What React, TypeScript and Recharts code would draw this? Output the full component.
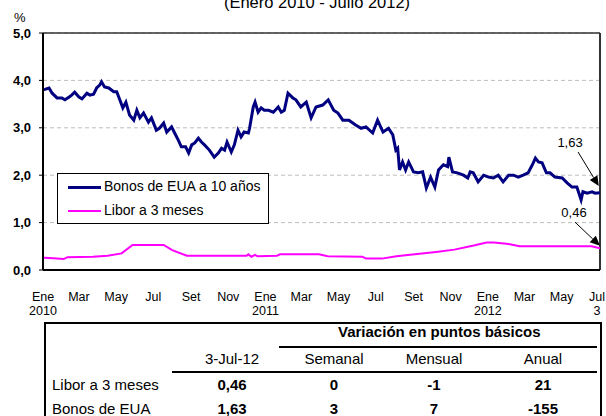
import React from "react";
import { CartesianGrid, Line, LineChart, ReferenceLine, XAxis, YAxis } from "recharts";

const FONT = "Arial, 'Liberation Sans', sans-serif";

/* ---------- data (x = days since 1 Jan 2010) ---------- */
const bondDays = [
  0, 3, 10, 15, 23, 31, 36, 43, 47, 52, 59, 64, 72, 77, 83, 88, 93, 96, 101, 108,
  116, 121, 126, 131, 136, 142, 149, 154, 159, 165, 173, 178, 186, 191, 198, 203, 211, 216, 222, 227,
  234, 239, 244, 249, 255, 260, 265, 273, 281, 288, 293, 298, 302, 309, 314, 320, 325, 330, 337, 339,
  345, 348, 353, 358, 363, 370, 378, 386, 391, 396, 402, 410, 415, 423, 432, 440, 448, 459, 468, 477,
  484, 492, 502, 513, 522, 530, 541, 549, 558, 567, 574, 579, 582, 585, 590, 595, 600, 608, 616, 623,
  629, 636, 643, 649, 657, 664, 666, 672, 680, 690, 697, 701, 706, 714, 723, 731, 739, 747, 755, 764,
  772, 780, 788, 796, 803, 808, 813, 819, 826, 832, 840, 852, 860, 868, 876, 883, 886, 893, 901, 906,
  914,
];
const bondValues = [
  3.8, 3.81, 3.84, 3.73, 3.63, 3.63, 3.59, 3.65, 3.69, 3.75, 3.65, 3.61, 3.73, 3.69, 3.71, 3.84, 3.9, 3.97, 3.86, 3.84,
  3.76, 3.76, 3.59, 3.42, 3.54, 3.27, 3.16, 3.37, 3.21, 3.31, 3.12, 3.21, 2.95, 2.99, 3.1, 2.91, 3.02, 2.89, 2.74, 2.6,
  2.6, 2.47, 2.64, 2.68, 2.78, 2.7, 2.64, 2.53, 2.38, 2.47, 2.57, 2.53, 2.7, 2.49, 2.64, 2.95, 2.81, 2.91, 2.89, 2.99,
  3.44, 3.54, 3.33, 3.42, 3.37, 3.37, 3.33, 3.44, 3.33, 3.37, 3.73, 3.63, 3.59, 3.44, 3.54, 3.21, 3.44, 3.48, 3.59, 3.37,
  3.31, 3.16, 3.16, 3.06, 2.99, 3.02, 2.89, 3.16, 2.91, 2.99, 2.85, 2.53, 2.57, 2.11, 2.28, 2.11, 2.28, 2.07, 2.05, 2.07,
  1.73, 1.96, 1.75, 2.11, 2.22, 2.18, 2.38, 2.07, 2.05, 2.0, 1.94, 2.07, 2.05, 1.86, 2.0, 1.96, 1.94, 2.0, 1.86, 2.0,
  2.0, 1.96, 2.0, 2.05, 2.22, 2.36, 2.28, 2.26, 2.05, 2.05, 1.96, 1.94, 1.84, 1.75, 1.75, 1.48, 1.65, 1.62, 1.65, 1.62,
  1.63,
];

const liborDays = [
  0, 2, 17, 34, 40, 82, 106, 129, 147, 198, 212, 236, 334, 337, 342, 348, 352, 384, 389, 453,
  467, 524, 530, 556, 580, 610, 645, 675, 705, 728, 740, 764, 782, 900, 914,
];
const liborValues = [
  0.26, 0.26, 0.25, 0.23, 0.27, 0.28, 0.3, 0.35, 0.53, 0.53, 0.42, 0.3, 0.3, 0.33, 0.28, 0.32, 0.29, 0.3, 0.33, 0.33,
  0.29, 0.28, 0.24, 0.24, 0.29, 0.33, 0.38, 0.43, 0.51, 0.58, 0.58, 0.55, 0.5, 0.5, 0.46,
];

const monthTicks = [0, 59, 120, 181, 243, 304, 365, 424, 485, 546, 608, 669, 730, 790, 851, 914];
const monthLabels = ["Ene", "Mar", "May", "Jul", "Set", "Nov", "Ene", "Mar", "May", "Jul", "Set", "Nov", "Ene", "Mar", "May", "Jul"];
const yearLabels = ["2010", "", "", "", "", "", "2011", "", "", "", "", "", "2012", "", "", "3"];
const yTicks = [0, 1, 2, 3, 4, 5];

const tableCols = ["3-Jul-12", "Semanal", "Mensual", "Anual"];
const liborRow = ["0,46", "0", "-1", "21"];
const bondRow = ["1,63", "3", "7", "-155"];

const bondData = bondDays.map((d, i) => ({ d, v: bondValues[i] }));
const liborData = liborDays.map((d, i) => ({ d, v: liborValues[i] }));

/* ---------- helpers ---------- */
function MonthTick({ x, y, payload }: any) {
  const i = monthTicks.indexOf(payload.value);
  // last label sits against the right edge, like the original
  const tx = i === monthTicks.length - 1 ? x - 3 : x;
  return (
    <g>
      <text x={tx} y={y + 23} textAnchor="middle" fontSize={12.5} fill="#000" fontFamily={FONT}>
        {monthLabels[i]}
      </text>
      <text x={tx} y={y + 37} textAnchor="middle" fontSize={12.5} fill="#000" fontFamily={FONT}>
        {yearLabels[i]}
      </text>
    </g>
  );
}

function arrowShape(label: string, dx: number) {
  return (props: any) => {
    const { x1, y1, x2, y2 } = props;
    const a = Math.atan2(y2 - y1, x2 - x1);
    const len = 10;
    const w = 4.5;
    const bx = x2 - len * Math.cos(a);
    const by = y2 - len * Math.sin(a);
    const pts = [
      `${x2},${y2}`,
      `${bx + w * Math.sin(a)},${by - w * Math.cos(a)}`,
      `${bx - w * Math.sin(a)},${by + w * Math.cos(a)}`,
    ].join(" ");
    return (
      <g>
        <line x1={x1} y1={y1} x2={bx} y2={by} stroke="#000" strokeWidth={1} />
        <polygon points={pts} fill="#000" />
        <text x={x1 + dx} y={y1 - 5} textAnchor="middle" fontSize={13} fontFamily={FONT} fill="#000">
          {label}
        </text>
      </g>
    );
  };
}

function T({ x, y, children, bold, anchor = "center" }: any) {
  const style: any = {
    position: "absolute",
    top: y - 9,
    fontSize: 15,
    lineHeight: "18px",
    fontWeight: bold ? "bold" : "normal",
    whiteSpace: "nowrap",
  };
  if (anchor === "center") {
    style.left = x - 100;
    style.width = 200;
    style.textAlign = "center";
  } else {
    style.left = x;
  }
  return <div style={style}>{children}</div>;
}

const colX = [232, 334, 434, 543];

export default function App() {
  return (
    <div
      style={{
        position: "absolute",
        left: 0,
        top: 0,
        width: 606,
        height: 416,
        overflow: "hidden",
        background: "#fff",
        fontFamily: FONT,
        color: "#000",
      }}
    >
      <div style={{ position: "absolute", left: 0, top: 0 }}>
        <LineChart width={606} height={320} margin={{ top: 33, right: 6, bottom: 20, left: 0 }}>
          <CartesianGrid vertical={false} stroke="#bdbdbd" strokeDasharray="4 3" />
          <XAxis
            dataKey="d"
            type="number"
            domain={[0, 914]}
            ticks={monthTicks}
            interval={0}
            height={30}
            tick={<MonthTick />}
            tickLine={false}
            axisLine={{ stroke: "#000", strokeWidth: 2 }}
          />
          <YAxis
            type="number"
            domain={[0, 5]}
            ticks={yTicks}
            width={43}
            tickSize={4}
            tickMargin={8}
            tickLine={{ stroke: "#000" }}
            axisLine={{ stroke: "#000", strokeWidth: 2 }}
            tickFormatter={(v) => Number(v).toFixed(1).replace(".", ",")}
            tick={{ fill: "#000", fontSize: 13, fontWeight: "bold", fontFamily: FONT }}
          />
          <ReferenceLine y={5} stroke="#333" strokeWidth={1.5} />
          <ReferenceLine x={914} stroke="#333" strokeWidth={2} />
          <Line
            data={liborData}
            dataKey="v"
            type="linear"
            stroke="#ff00ff"
            strokeWidth={2}
            dot={false}
            isAnimationActive={false}
          />
          <Line
            data={bondData}
            dataKey="v"
            type="linear"
            stroke="#000080"
            strokeWidth={3}
            dot={false}
            isAnimationActive={false}
          />
          <ReferenceLine
            segment={[{ x: 878, y: 2.49 }, { x: 912, y: 1.77 }]}
            shape={arrowShape("1,63", -8)}
          />
          <ReferenceLine
            segment={[{ x: 873, y: 1.01 }, { x: 914, y: 0.51 }]}
            shape={arrowShape("0,46", -1)}
          />
        </LineChart>
      </div>

      {/* title (cut at top) and unit */}
      <div
        style={{
          position: "absolute",
          left: 217,
          width: 200,
          top: -7,
          textAlign: "center",
          fontSize: 16.5,
          whiteSpace: "nowrap",
        }}
      >
        (Enero 2010 - Julio 2012)
      </div>
      <div style={{ position: "absolute", left: 14, top: 10, fontSize: 13 }}>%</div>

      {/* legend */}
      <div
        style={{
          position: "absolute",
          left: 57,
          top: 173,
          width: 210,
          height: 49,
          border: "1px solid #000",
          background: "#fff",
          fontSize: 14,
        }}
      >
        <div style={{ position: "absolute", left: 10, top: 12, width: 33, height: 3, background: "#000080" }} />
        <div style={{ position: "absolute", left: 46, top: 4, whiteSpace: "nowrap" }}>Bonos de EUA a 10 años</div>
        <div style={{ position: "absolute", left: 10, top: 36, width: 33, height: 2, background: "#ff00ff" }} />
        <div style={{ position: "absolute", left: 46, top: 28, whiteSpace: "nowrap" }}>Libor a 3 meses</div>
      </div>

      {/* table */}
      <div
        style={{
          position: "absolute",
          left: 44,
          top: 322,
          width: 554,
          height: 120,
          border: "2px solid #000",
        }}
      />
      <T x={438} y={332} bold>
        Variación en puntos básicos
      </T>
      <div style={{ position: "absolute", left: 279, top: 346, width: 318, height: 2, background: "#000" }} />
      {tableCols.map((c, i) => (
        <T key={c} x={colX[i]} y={359}>
          {c}
        </T>
      ))}
      <div style={{ position: "absolute", left: 172, top: 371, width: 425, height: 2, background: "#000" }} />
      <T x={52} y={385} anchor="left">
        Libor a 3 meses
      </T>
      {liborRow.map((v, i) => (
        <T key={i} x={colX[i]} y={385} bold>
          {v}
        </T>
      ))}
      <T x={52} y={409} anchor="left">
        Bonos de EUA
      </T>
      {bondRow.map((v, i) => (
        <T key={i} x={colX[i]} y={409} bold>
          {v}
        </T>
      ))}
    </div>
  );
}
